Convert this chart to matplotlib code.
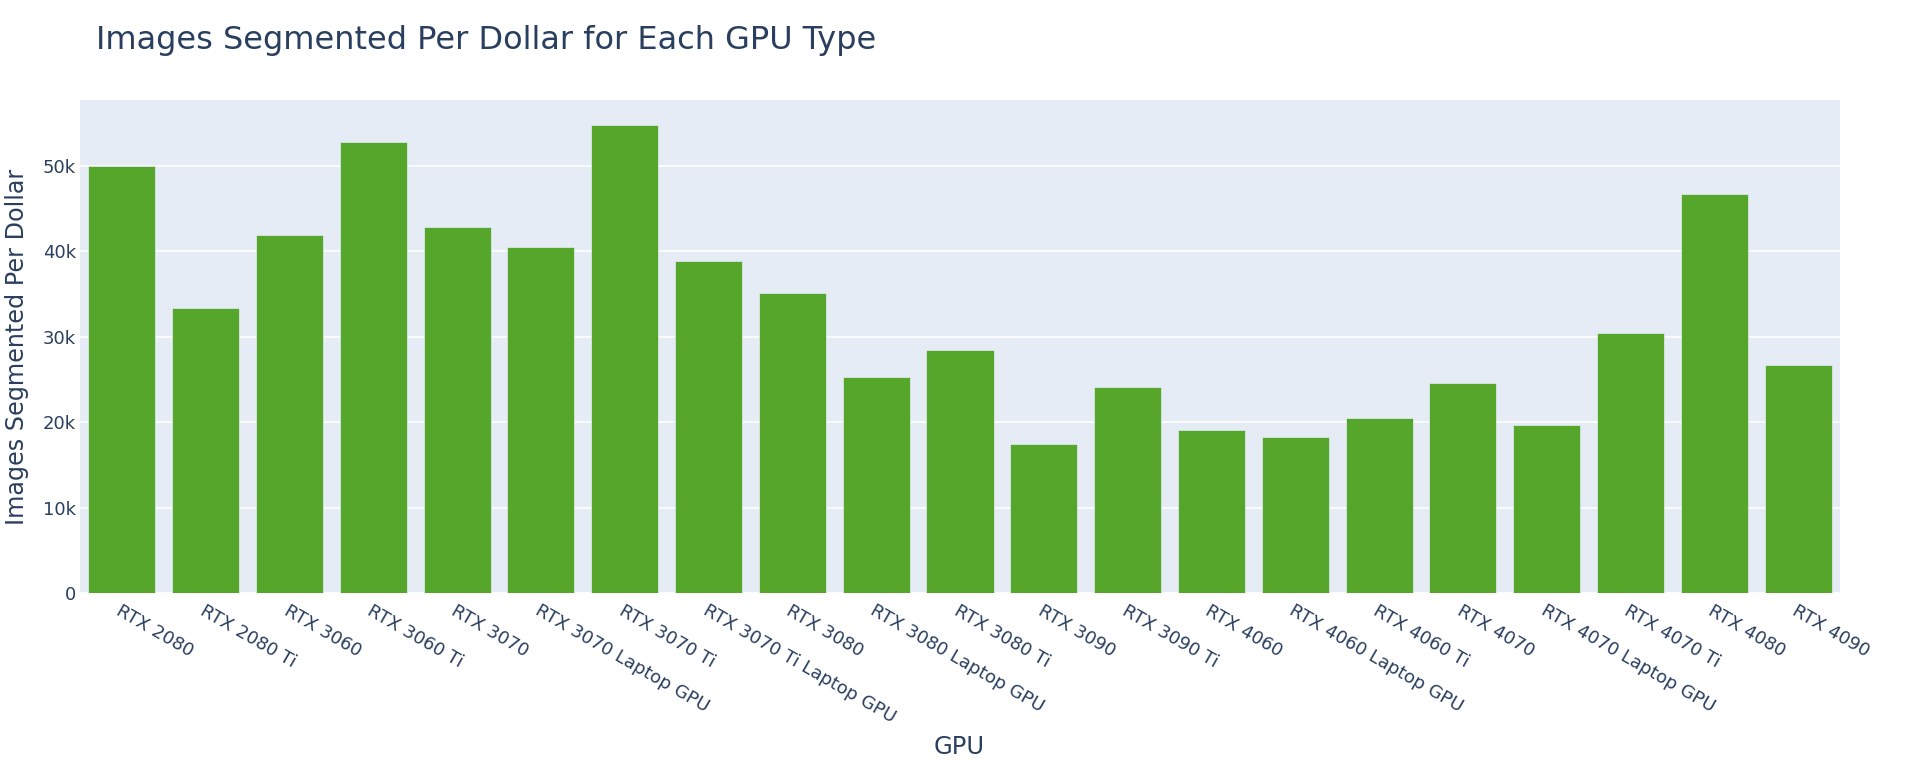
import matplotlib
matplotlib.use("Agg")
import matplotlib.pyplot as plt
from matplotlib.ticker import FuncFormatter, MultipleLocator

gpus = ["RTX 2080", "RTX 2080 Ti", "RTX 3060", "RTX 3060 Ti", "RTX 3070",
        "RTX 3070 Laptop GPU", "RTX 3070 Ti", "RTX 3070 Ti Laptop GPU", "RTX 3080",
        "RTX 3080 Laptop GPU", "RTX 3080 Ti", "RTX 3090", "RTX 3090 Ti", "RTX 4060",
        "RTX 4060 Laptop GPU", "RTX 4060 Ti", "RTX 4070", "RTX 4070 Laptop GPU",
        "RTX 4070 Ti", "RTX 4080", "RTX 4090"]
images_per_dollar = [50000, 33420, 41900, 52850, 42860, 40560, 54800, 38920, 35180,
                     25270, 28500, 17430, 24140, 19100, 18330, 20470, 24570, 19700,
                     30420, 46720, 26750]

TEXT = "#2a3f5f"
BG = "#E5ECF6"
BAR = "#55A62A"

plt.rcParams['font.family'] = ['DejaVu Sans']
fig = plt.figure(figsize=(19.2, 7.68), dpi=100)
ax = fig.add_axes([80/1920, 1-593.3/768, 1760/1920, (593.3-100)/768])
ax.set_facecolor(BG)

x = list(range(len(gpus)))
ax.bar(x, images_per_dollar, width=0.8, color=BAR, edgecolor=BG, linewidth=0.5, zorder=3)

ax.set_xlim(-0.5, len(gpus)-0.5)
ax.set_ylim(0, 57720)
ax.yaxis.set_major_locator(MultipleLocator(10000))
ax.yaxis.set_major_formatter(FuncFormatter(lambda v, p: "0" if v == 0 else f"{int(v/1000)}k"))
ax.grid(axis='y', color='white', linewidth=1.2, zorder=0)
ax.set_axisbelow(True)
for s in ax.spines.values():
    s.set_visible(False)
ax.tick_params(axis='both', length=0, colors=TEXT, labelsize=13)
ax.tick_params(axis='y', pad=3)
ax.set_xticks(x)
ax.set_xticklabels(gpus, rotation=-30, ha='left', va='top', rotation_mode='anchor')
ax.tick_params(axis='x', pad=6)

ax.set_ylabel("Images Segmented Per Dollar", fontsize=17.2, color=TEXT, labelpad=10)
fig.text(959/1920, 1-747/768, "GPU", fontsize=17.5, color=TEXT, ha='center', va='center')
fig.text(96/1920, 1-41/768, "Images Segmented Per Dollar for Each GPU Type",
         fontsize=23, color=TEXT, ha='left', va='center')

fig.savefig("out.png", dpi=100, facecolor='white')
